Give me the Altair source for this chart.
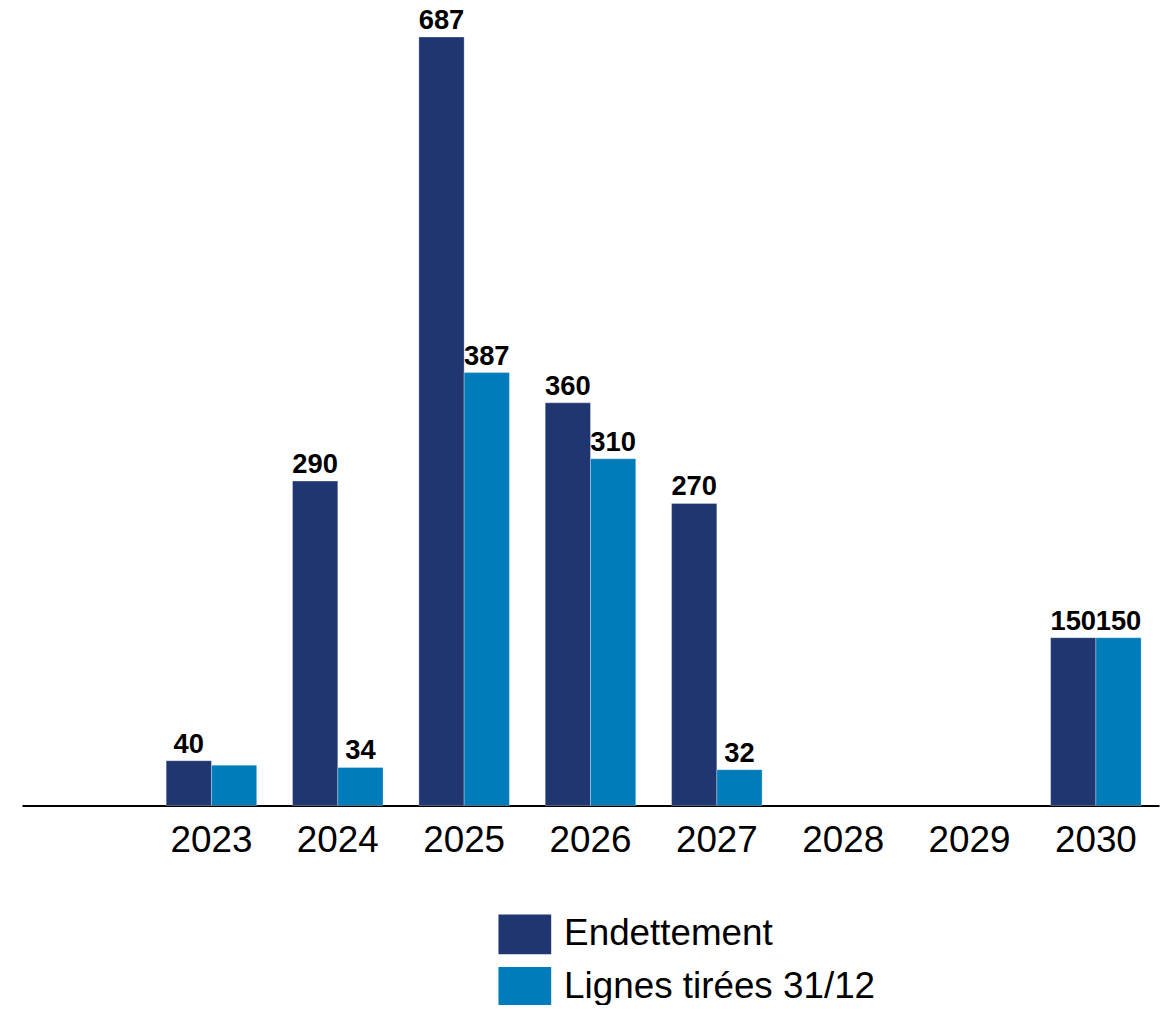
import altair as alt
import pandas as pd

categories = [" ", "2023", "2024", "2025", "2026", "2027", "2028", "2029", "2030"]
years = ["2023", "2024", "2025", "2026", "2027", "2030"]
endettement = [40, 290, 687, 360, 270, 150]
lignes = [36, 34, 387, 310, 32, 150]
endettement_labels = ["40", "290", "687", "360", "270", "150"]
lignes_labels = ["", "34", "387", "310", "32", "150"]
series = ["Endettement", "Lignes tirées 31/12"]
colors = ["#1F3671", "#007CBA"]

rows = []
for y, v, l in zip(years, endettement, endettement_labels):
    rows.append({"year": y, "series": series[0], "value": v, "label": l})
for y, v, l in zip(years, lignes, lignes_labels):
    rows.append({"year": y, "series": series[1], "value": v, "label": l})
df = pd.DataFrame(rows)

FONT = "Liberation Sans"

x = alt.X("year:N", scale=alt.Scale(domain=categories, paddingInner=0.2835, paddingOuter=0.1417),
          axis=alt.Axis(title=None, labelAngle=0, labelFontSize=37, labelFont=FONT, labelColor="#000000",
                        ticks=False, domainColor="#000000", domainWidth=2, labelPadding=17, grid=False))
xo = alt.XOffset("series:N", scale=alt.Scale(domain=series, paddingInner=0, paddingOuter=0))
y = alt.Y("value:Q", scale=alt.Scale(domain=[0, 700], nice=False, zero=True), axis=None)

bars = alt.Chart(df).mark_bar(stroke="#ffffff", strokeWidth=0.6, strokeOpacity=0.5).encode(
    x=x, xOffset=xo, y=y,
    color=alt.Color("series:N", scale=alt.Scale(domain=series, range=colors),
                    legend=alt.Legend(title=None, orient="none", legendX=479, legendY=890,
                                      direction="vertical", labelFontSize=37, labelFont=FONT,
                                      labelColor="#000000", labelOffset=13, rowPadding=6,
                                      symbolType="M-1,-0.755H1V0.755H-1Z", symbolSize=2809,
                                      symbolStrokeWidth=0, symbolOpacity=1, padding=0,
                                      labelLimit=600)),
)

texts = alt.Chart(df).mark_text(font=FONT, fontSize=27.5, fontWeight="bold", color="#000000",
                                 baseline="alphabetic", align="center", dy=-8).encode(
    x=x, xOffset=xo, y=y, text="label:N"
)

chart = alt.layer(bars, texts).properties(
    width=1143, height=787,
    autosize=alt.AutoSizeParams(type="none"),
    padding={"left": 14, "top": 12, "right": 9, "bottom": 198},
).configure_view(stroke=None)

chart.save("out.html", embed_options={"renderer": "svg", "actions": False})
